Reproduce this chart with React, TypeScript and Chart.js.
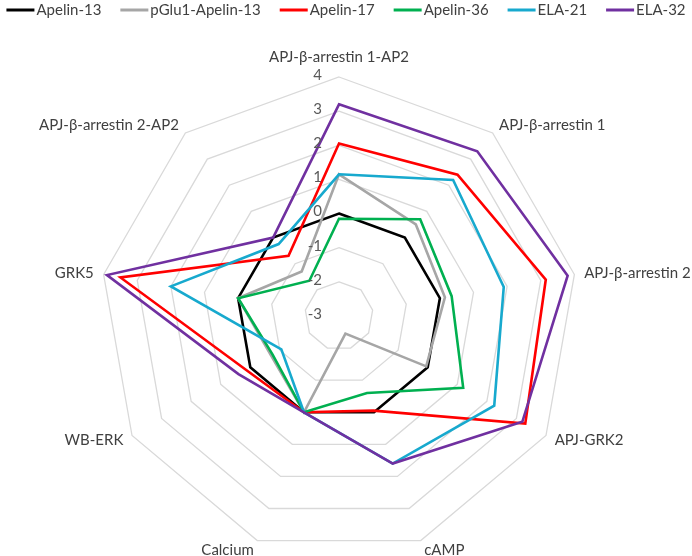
import { useEffect, useRef } from "react"
import { Chart, registerables } from "chart.js"

Chart.register(...registerables)

const categories = [
  "APJ-β-arrestin 1-AP2",
  "APJ-β-arrestin 1",
  "APJ-β-arrestin 2",
  "APJ-GRK2",
  "cAMP",
  "Calcium",
  "WB-ERK",
  "GRK5",
  "APJ-β-arrestin 2-AP2",
]

const seriesNames = ["Apelin-13", "pGlu1-Apelin-13", "Apelin-17", "Apelin-36", "ELA-21", "ELA-32"]
const seriesColors = ["#000000", "#a6a6a6", "#ff0000", "#00b050", "#17a9ce", "#7030a0"]

const apelin13 = [0, 0, 0, 0, 0, 0, 0, 0, 0]
const pGlu1Apelin13 = [1.15, 0.5, 0.15, -0.05, -2.45, 0, -0.7, 0, -1.3]
const apelin17 = [2.05, 2.4, 3.15, 3.3, -0.05, 0, 0.15, 3.5, -0.7]
const apelin36 = [-0.15, 0.7, 0.35, 1.2, -0.6, 0, -0.75, 0, -1.65]
const ela21 = [1.15, 2.2, 1.9, 2.25, 1.6, 0, -1.05, 2.0, -0.25]
const ela32 = [3.2, 3.3, 3.8, 3.2, 1.6, 0, 0.4, 3.9, 0]

const seriesValues = [apelin13, pGlu1Apelin13, apelin17, apelin36, ela21, ela32]

const scaleMin = -3
const scaleMax = 4

const FONT = "Lato, 'Open Sans', sans-serif"

// tick labels, category labels and the line legend, placed like the Excel original
const radarText = {
  id: "radarText",
  afterDraw(chart: Chart) {
    const scale: any = chart.scales.r
    const ctx = chart.ctx
    ctx.save()

    // tick labels, left of the top spoke
    ctx.font = `15px ${FONT}`
    ctx.fillStyle = "#595959"
    ctx.textAlign = "right"
    ctx.textBaseline = "middle"
    scale.ticks.forEach((t: any) => {
      const d = scale.getDistanceFromCenterForValue(t.value)
      ctx.fillText(String(t.value), scale.xCenter - 17, scale.yCenter - d - 2)
    })

    // category labels
    ctx.fillStyle = "#404040"
    const n = chart.data.labels!.length
    chart.data.labels!.forEach((label, i) => {
      const p = scale.getPointPosition(i, scale.drawingArea + 10)
      const angle = (i * 360) / n
      if (angle === 0) {
        ctx.textAlign = "center"
        ctx.textBaseline = "bottom"
        ctx.fillText(String(label), p.x, p.y - 2)
        return
      }
      ctx.textAlign = angle < 180 ? "left" : "right"
      ctx.textBaseline = "middle"
      ctx.fillText(String(label), p.x, p.y)
    })

    // legend
    const lineLen = 28
    const gap = 2
    const spacing = 19
    const widths = chart.data.datasets.map((ds) => lineLen + gap + ctx.measureText(String(ds.label)).width)
    const total = widths.reduce((a, b) => a + b, 0) + spacing * (widths.length - 1)
    let x = (chart.width - total) / 2
    const y = 10
    ctx.textAlign = "left"
    ctx.textBaseline = "middle"
    chart.data.datasets.forEach((ds, i) => {
      ctx.strokeStyle = ds.borderColor as string
      ctx.lineWidth = 3
      ctx.beginPath()
      ctx.moveTo(x, y)
      ctx.lineTo(x + lineLen, y)
      ctx.stroke()
      ctx.fillStyle = "#404040"
      ctx.fillText(String(ds.label), x + lineLen + gap, y)
      x += widths[i] + spacing
    })

    ctx.restore()
  },
}

function RadarChart() {
  const chartRef = useRef<HTMLCanvasElement>(null)
  const chartInstance = useRef<Chart | null>(null)

  useEffect(() => {
    if (!chartRef.current) return
    if (chartInstance.current) chartInstance.current.destroy()
    const ctx = chartRef.current.getContext("2d")
    if (!ctx) return

    chartInstance.current = new Chart(ctx, {
      type: "radar",
      data: {
        labels: categories,
        datasets: seriesNames.map((name, i) => ({
          label: name,
          data: seriesValues[i],
          borderColor: seriesColors[i],
          backgroundColor: seriesColors[i],
          borderWidth: 2.6,
          pointRadius: 0,
          fill: false,
          tension: 0,
          order: seriesNames.length - i,
        })),
      },
      options: {
        animation: false,
        responsive: true,
        maintainAspectRatio: false,
        layout: {
          padding: { left: 100, right: 114, top: 77, bottom: 1 },
        },
        plugins: {
          legend: { display: false },
          tooltip: { enabled: false },
        },
        scales: {
          r: {
            min: scaleMin,
            max: scaleMax,
            startAngle: 0,
            angleLines: { display: false },
            grid: { color: "#d9d9d9", lineWidth: 1.3, circular: false },
            ticks: { stepSize: 1, display: false },
            pointLabels: { display: false },
          },
        },
      },
      plugins: [radarText],
    })

    return () => {
      if (chartInstance.current) {
        chartInstance.current.destroy()
        chartInstance.current = null
      }
    }
  }, [])

  return <canvas ref={chartRef} />
}

export default function App() {
  return (
    <div style={{ position: "fixed", left: 0, top: 0, width: 692, height: 556, background: "#fff" }}>
      <RadarChart />
    </div>
  )
}
